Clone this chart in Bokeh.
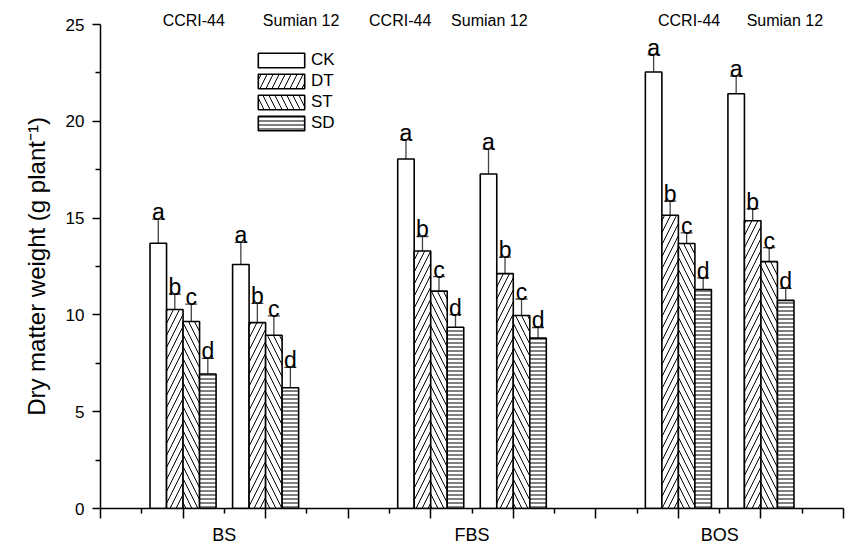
from bokeh.plotting import figure
from bokeh.models import (ColumnDataSource, Range1d, FixedTicker, LinearAxis,
                          Whisker, TeeHead, Legend, LegendItem)
from bokeh.core.properties import value
from bokeh.embed import file_html
from bokeh.resources import INLINE

# ---------------- data ----------------
stages = ["BS", "FBS", "BOS"]
cultivars = ["CCRI-44", "Sumian 12"]
treatments = ["CK", "DT", "ST", "SD"]

# order of values: BS/CCRI-44, BS/Sumian 12, FBS/CCRI-44, FBS/Sumian 12, BOS/CCRI-44, BOS/Sumian 12
ck_mean = [13.70, 12.60, 18.05, 17.28, 22.55, 21.42]
dt_mean = [10.28, 9.60, 13.30, 12.13, 15.15, 14.86]
st_mean = [9.66, 8.95, 11.23, 9.97, 13.69, 12.75]
sd_mean = [6.95, 6.24, 9.36, 8.80, 11.31, 10.75]

ck_err = [1.25, 1.15, 1.00, 1.30, 0.90, 0.92]
dt_err = [0.80, 1.00, 0.75, 0.85, 0.73, 0.63]
st_err = [0.90, 1.00, 0.75, 0.85, 0.55, 0.73]
sd_err = [0.80, 1.05, 0.65, 0.55, 0.60, 0.62]

ck_letters = ["a", "a", "a", "a", "a", "a"]
dt_letters = ["b", "b", "b", "b", "b", "b"]
st_letters = ["c", "c", "c", "c", "c", "c"]
sd_letters = ["d", "d", "d", "d", "d", "d"]

y_ticks = [0, 5, 10, 15, 20, 25]

means = {"CK": ck_mean, "DT": dt_mean, "ST": st_mean, "SD": sd_mean}
errs = {"CK": ck_err, "DT": dt_err, "ST": st_err, "SD": sd_err}
letters = {"CK": ck_letters, "DT": dt_letters, "ST": st_letters, "SD": sd_letters}

# ---------------- styles / layout ----------------
FONT = "Liberation Sans"
hatch = {"CK": None, "DT": "/", "ST": "\\", "SD": "-"}
hatch_scale = {"CK": 8, "DT": 12, "ST": 12, "SD": 4}
bar_w = 0.2
# cultivar label positions (placed by hand in the original)
cult_label_x = [1.13, 2.43, 3.63, 4.71, 7.13, 8.29]

p = figure(width=846, height=547, output_backend="svg", toolbar_location=None,
           x_range=Range1d(0, 9), y_range=Range1d(0, 25),
           min_border_left=100, min_border_right=3, min_border_top=24,
           min_border_bottom=34, background_fill_color="white",
           border_fill_color="white")
p.outline_line_color = None
p.grid.visible = False

# bar centres derived from stage / cultivar / treatment index
centres = []
for si in range(len(stages)):
    for ci in range(len(cultivars)):
        centres.append(3 * si + 1 + ci)

renderers = {}
for k, t in enumerate(treatments):
    xs = [c + (k - 1.5) * bar_w for c in centres]
    src = ColumnDataSource(dict(
        x=xs, top=means[t],
        upper=[m + e for m, e in zip(means[t], errs[t])],
        letter=letters[t]))
    kw = {}
    if hatch[t]:
        kw = dict(hatch_pattern=hatch[t], hatch_scale=hatch_scale[t],
                  hatch_color="black", hatch_weight=1)
    r = p.vbar(x="x", top="top", bottom=0, width=bar_w, source=src,
               fill_color="white", line_color="black", line_width=1.6, **kw)
    renderers[t] = r
    wh = Whisker(source=src, base="x", lower="top", upper="upper",
                 dimension="height", line_color="#444444", line_width=1.3,
                 upper_head=TeeHead(size=12, line_color="#444444", line_width=1.3),
                 lower_head=None)
    p.add_layout(wh)
    p.text(x="x", y="upper", text="letter", source=src, text_align="center",
           text_baseline="alphabetic", y_offset=-7,
           text_font=value(FONT), text_font_size="23px", text_color="black")

# y axis
ya = p.yaxis[0]
ya.ticker = FixedTicker(ticks=y_ticks,
                        minor_ticks=[y + 2.5 for y in y_ticks[:-1]])
ya.axis_label = "Dry matter weight (g plant\u207b\u00b9)"
ya.axis_label_text_font = FONT
ya.axis_label_text_font_size = "24px"
ya.axis_label_text_font_style = "normal"
ya.axis_label_text_color = "black"
ya.axis_label_standoff = 13
ya.major_label_text_font = FONT
ya.major_label_text_font_size = "17px"
ya.major_label_text_color = "black"
ya.major_label_standoff = 8
ya.major_tick_out = 8
ya.major_tick_in = 0
ya.minor_tick_out = 5
ya.minor_tick_in = 0
ya.axis_line_width = 1.5
ya.major_tick_line_width = 1.5
ya.minor_tick_line_width = 1.5

# x axis: ticks only (labels not drawn)
xa = p.xaxis[0]
xa.ticker = FixedTicker(ticks=list(range(10)),
                        minor_ticks=[i + 0.5 for i in range(9)])
xa.major_label_text_font_size = "1px"
xa.major_label_text_color = None
xa.major_label_standoff = 0
xa.major_tick_out = 10
xa.major_tick_in = 0
xa.minor_tick_out = 5
xa.minor_tick_in = 0
xa.axis_line_width = 1.5
xa.major_tick_line_width = 1.5
xa.minor_tick_line_width = 1.5

# x axis: stage labels
xa2 = LinearAxis(ticker=FixedTicker(ticks=[3 * i + 1.5 for i in range(len(stages))]),
                 major_label_overrides={3 * i + 1.5: s for i, s in enumerate(stages)},
                 axis_line_color=None, major_tick_line_color=None,
                 minor_tick_line_color=None, major_label_standoff=0,
                 major_label_text_color="black",
                 major_label_text_font=FONT, major_label_text_font_size="18px")
p.add_layout(xa2, "below")

# cultivar labels on top (as a line-less axis)
xa3 = LinearAxis(ticker=FixedTicker(ticks=cult_label_x),
                 major_label_overrides={x: cultivars[i % 2] for i, x in enumerate(cult_label_x)},
                 axis_line_color=None, major_tick_line_color=None,
                 minor_tick_line_color=None, major_label_standoff=-10,
                 major_label_text_color="black",
                 major_label_text_font=FONT, major_label_text_font_size="16px")
p.add_layout(xa3, "above")

legend = Legend(items=[LegendItem(label=t, renderers=[renderers[t]]) for t in treatments],
                location=(152, 375), padding=0, margin=0, spacing=1,
                glyph_width=58, glyph_height=18, label_height=18,
                label_standoff=1, label_text_font=FONT, label_text_color="black",
                label_text_font_size="17px", border_line_color=None,
                background_fill_alpha=0)
p.add_layout(legend)

open("out.html", "w").write(file_html(p, INLINE))
